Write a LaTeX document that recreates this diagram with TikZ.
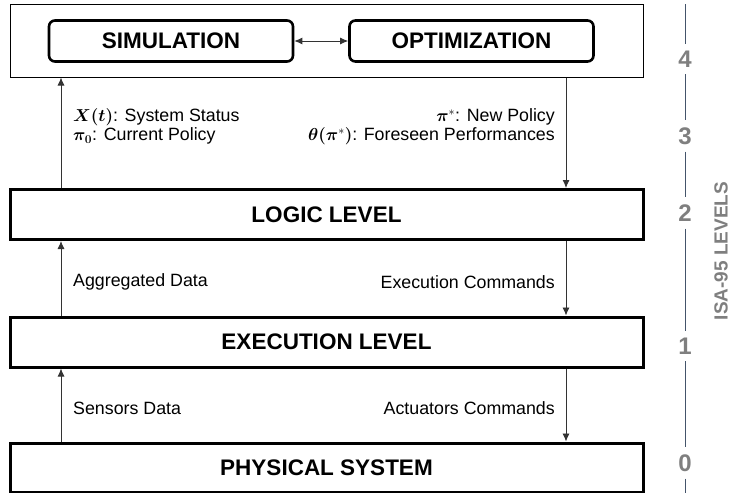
\documentclass[tikz,border=0pt]{standalone}
\usepackage{amsmath,amssymb,bm}
\usepackage{fontspec}
\setmainfont{Liberation Sans}
\usepackage{tikz}
\usetikzlibrary{arrows.meta}
\usetikzlibrary{positioning}
\definecolor{isagray}{RGB}{127,127,127}
\definecolor{isaline}{RGB}{68,84,106}

\begin{document}
\begin{tikzpicture}[x=1pt,y=-1pt,
        every node/.style={inner sep=0pt},
        layer/.style={draw,line width=3pt,minimum width=633pt,minimum height=50pt,
            font=\fontsize{22.5}{26}\selectfont\bfseries},
        tool/.style={draw,line width=2.6pt,rounded corners=6pt,minimum width=244pt,
            minimum height=41pt,font=\fontsize{22.5}{26}\selectfont\bfseries},
        flow/.style={draw=black!80,line width=0.9pt,-{Latex[length=8pt,width=7pt]}},
        info/.style={font=\fontsize{17.8}{21}\selectfont},
        level/.style={text=isagray,font=\fontsize{24}{28}\selectfont\bfseries,inner sep=7pt},
        scale line/.style={draw=isaline,line width=1pt}]

    \useasboundingbox (0,0) rectangle (737,493);

    \node[draw,line width=1pt,minimum width=633pt,minimum height=73pt] (top) at (326.5,40.5) {};
    \node[tool] (sim) at (171,41) {SIMULATION};
    \node[tool] (opt) at (471.5,41) {OPTIMIZATION};
    \node[layer] (logic) at (326.5,214.5) {LOGIC LEVEL};
    \node[layer] (exec) at (326.5,342) {EXECUTION LEVEL};
    \node[layer,minimum height=49pt] (phys) at (326.5,467.5) {PHYSICAL SYSTEM};

    \coordinate (lft) at (61,0);
    \coordinate (rgt) at (566,0);

    \draw[flow,{Latex[length=8pt,width=7pt]}-{Latex[length=8pt,width=7pt]}] (sim) -- (opt);
    \draw[flow] (logic.north -| lft) -- (top.south -| lft);
    \draw[flow] (top.south -| rgt) -- (logic.north -| rgt);
    \draw[flow] (exec.north -| lft) -- (logic.south -| lft);
    \draw[flow] (logic.south -| rgt) -- (exec.north -| rgt);
    \draw[flow] (phys.north -| lft) -- (exec.south -| lft);
    \draw[flow] (exec.south -| rgt) -- (phys.north -| rgt);

    \node[info,anchor=west] (status) at (73,117) {$\bm{X(t)}$: System Status};
    \node[info,anchor=west] (current) at (73,136) {$\bm{\pi_0}$: Current Policy};
    \node[info,anchor=east] (newpol) at (555,117) {$\bm{\pi}^{*}$: New Policy};
    \node[info,anchor=east] (foreseen) at (555,136) {$\bm{\theta(\pi}^{*}\bm{)}$: Foreseen Performances};
    \node[info,anchor=west] (aggr) at (73,282) {Aggregated Data};
    \node[info,anchor=east] (execcmd) at (555,282) {Execution Commands};
    \node[info,anchor=west] (sensors) at (73,408) {Sensors Data};
    \node[info,anchor=east] (actuators) at (555,408) {Actuators Commands};

    \node[level] (l4) at (685,59) {4};
    \node[level] (l3) at (685,136) {3};
    \node[level] (l2) at (685,213) {2};
    \node[level] (l1) at (685,346) {1};
    \node[level] (l0) at (685,463) {0};
    \coordinate (scaletop) at (685,4);
    \coordinate (scalebot) at (685,493);
    \draw[scale line] (scaletop) -- (l4);
    \draw[scale line] (l4) -- (l3);
    \draw[scale line] (l3) -- (l2);
    \draw[scale line] (l2) -- (l1);
    \draw[scale line] (l1) -- (l0);
    \draw[scale line] (l0) -- (scalebot);

    \node[rotate=90,text=isagray,font=\fontsize{19}{22}\selectfont\bfseries] (isa) at (721,251) {ISA-95 LEVELS};
\end{tikzpicture}
\end{document}
